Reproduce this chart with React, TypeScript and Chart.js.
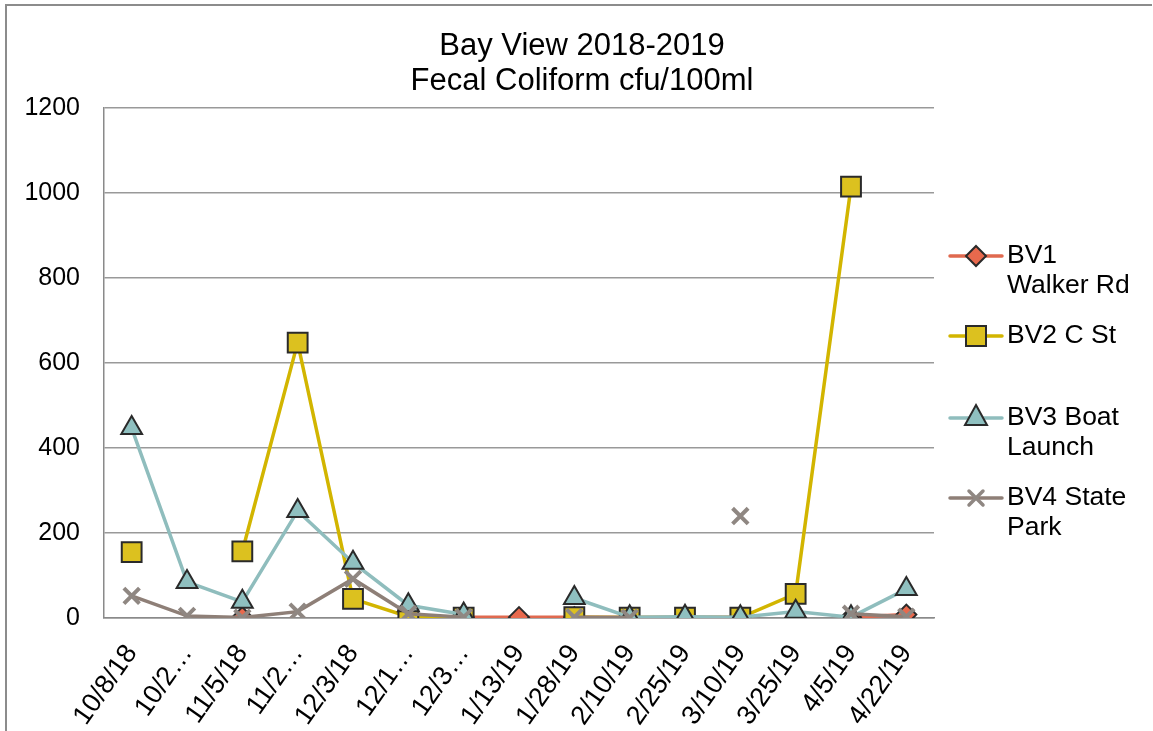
import React, { useEffect, useRef } from 'react';
import { Chart, registerables } from 'chart.js';

Chart.register(...registerables);

const categories = ['10/8/18', '10/2…', '11/5/18', '11/2…', '12/3/18', '12/1…', '12/3…', '1/13/19', '1/28/19', '2/10/19', '2/25/19', '3/10/19', '3/25/19', '4/5/19', '4/22/19'];
const bv1Values = [null, null, 2, null, null, null, 2, 2, 2, 1, 2, 2, null, 2, 8];
const bv2Values = [155, null, 157, 648, 45, 3, 1, null, 2, 1, 1, 1, 57, 1015, null];
const bv3Values = [447, 85, 38, 252, 130, 30, 8, null, 47, 2, 3, 2, 15, 2, 68];
const bv4Values = [52, 5, 1, 15, 92, 10, 2, null, 2, 1, null, 240, null, 10, 3];
const yTicks = [0, 200, 400, 600, 800, 1000, 1200];
const titleLines = ['Bay View 2018-2019', 'Fecal Coliform cfu/100ml'];

const FONT = "'Liberation Sans', Arial, sans-serif";

const legendItems = [
  { lines: ['BV1', 'Walker Rd'], line: '#E0694F', style: 'diamond', fill: '#E8694D', y: 256 },
  { lines: ['BV2 C St'], line: '#D2B500', style: 'square', fill: '#DCC11F', y: 336 },
  { lines: ['BV3 Boat', 'Launch'], line: '#8FBDBD', style: 'triangle', fill: '#8FC0C0', y: 418 },
  { lines: ['BV4 State', 'Park'], line: '#8E7F77', style: 'cross', fill: '#8F8782', y: 498 },
];

const legendPlugin = {
  id: 'customLegend',
  afterDraw(chart: any) {
    const ctx = chart.ctx as CanvasRenderingContext2D;
    ctx.save();
    legendItems.forEach((it) => {
      const y = it.y;
      ctx.strokeStyle = it.line;
      ctx.lineWidth = 3.5;
      ctx.lineCap = 'round';
      ctx.beginPath();
      ctx.moveTo(950, y);
      ctx.lineTo(1002, y);
      ctx.stroke();
      const cx = 976;
      ctx.lineWidth = 2;
      ctx.strokeStyle = '#2a2a2a';
      ctx.fillStyle = it.fill;
      ctx.beginPath();
      if (it.style === 'diamond') {
        ctx.moveTo(cx, y - 10); ctx.lineTo(cx + 10, y); ctx.lineTo(cx, y + 10); ctx.lineTo(cx - 10, y); ctx.closePath();
        ctx.fill(); ctx.stroke();
      } else if (it.style === 'square') {
        ctx.rect(cx - 10, y - 10, 20, 20);
        ctx.fill(); ctx.stroke();
      } else if (it.style === 'triangle') {
        ctx.moveTo(cx, y - 13); ctx.lineTo(cx + 11, y + 7); ctx.lineTo(cx - 11, y + 7); ctx.closePath();
        ctx.fill(); ctx.stroke();
      } else {
        ctx.strokeStyle = it.fill;
        ctx.lineWidth = 3.5;
        ctx.moveTo(cx - 7, y - 7); ctx.lineTo(cx + 7, y + 7);
        ctx.moveTo(cx + 7, y - 7); ctx.lineTo(cx - 7, y + 7);
        ctx.stroke();
      }
      ctx.fillStyle = '#000';
      ctx.font = `26.5px ${FONT}`;
      ctx.textBaseline = 'middle';
      ctx.textAlign = 'left';
      it.lines.forEach((t, i) => ctx.fillText(t, 1007, y + i * 30));
    });
    ctx.restore();
  },
};

export default function App() {
  const ref = useRef<HTMLCanvasElement>(null);
  useEffect(() => {
    if (!ref.current) return;
    const chart = new Chart(ref.current, {
      type: 'line',
      data: {
        labels: categories,
        datasets: [
          {
            label: 'BV1 Walker Rd', data: bv1Values, order: 3,
            borderColor: '#E0694F', borderWidth: 3.5,
            pointStyle: 'rectRot', pointRadius: 10, pointBackgroundColor: '#E8694D',
            pointBorderColor: '#2a2a2a', pointBorderWidth: 2, spanGaps: false,
          },
          {
            label: 'BV2 C St', data: bv2Values, order: 2,
            borderColor: '#D2B500', borderWidth: 3.5,
            pointStyle: 'rect', pointRadius: 14, pointBackgroundColor: '#DCC11F',
            pointBorderColor: '#2a2a2a', pointBorderWidth: 2, spanGaps: false,
          },
          {
            label: 'BV3 Boat Launch', data: bv3Values, order: 1,
            borderColor: '#8FBDBD', borderWidth: 3.5,
            pointStyle: 'triangle', pointRadius: 12, pointBackgroundColor: '#8FC0C0',
            pointBorderColor: '#2a2a2a', pointBorderWidth: 2, spanGaps: false,
          },
          {
            label: 'BV4 State Park', data: bv4Values, order: 0,
            borderColor: '#8E7F77', borderWidth: 3.5,
            pointStyle: 'crossRot', pointRadius: 11, pointBackgroundColor: '#8F8782',
            pointBorderColor: '#8F8782', pointBorderWidth: 4, spanGaps: false,
          },
        ],
      },
      options: {
        responsive: false,
        animation: false,
        layout: { padding: { top: 0, right: 0, bottom: 0, left: 11 } },
        plugins: {
          legend: { display: false },
          tooltip: { enabled: false },
          title: {
            display: true,
            text: titleLines,
            color: '#000',
            font: { family: FONT, size: 31, weight: 'normal', lineHeight: 1.13 },
            padding: { top: 29, bottom: 9 },
          },
        },
        scales: {
          x: {
            offset: true,
            grid: { display: false, drawTicks: false },
            border: { display: true, color: '#8a8a8a', width: 1.5 },
            ticks: {
              color: '#000', autoSkip: false, minRotation: 55, maxRotation: 55, padding: 21,
              font: { family: FONT, size: 27 },
            },
            afterFit: (s: any) => { s.height = 113; },
          },
          y: {
            min: 0, max: 1200,
            afterBuildTicks: (s: any) => { s.ticks = yTicks.map((v) => ({ value: v })); },
            grid: { color: '#999999', lineWidth: 1.5, drawTicks: false },
            border: { display: true, color: '#8a8a8a', width: 1.5 },
            ticks: {
              color: '#000', padding: 24, font: { family: FONT, size: 25 },
              callback: (v: any) => String(v),
            },
            afterFit: (s: any) => { s.width = 93; },
          },
          legendSpace: {
            type: 'linear',
            position: 'right',
            display: true,
            grid: { display: false, drawOnChartArea: false, drawTicks: false },
            border: { display: false },
            ticks: { display: false },
            afterFit: (s: any) => { s.width = 219; },
          },
        },
      },
      plugins: [legendPlugin],
    });
    return () => chart.destroy();
  }, []);
  return (
    <div style={{ position: 'fixed', left: 0, top: 0, width: 1153, height: 731, background: '#fff' }}>
      <div style={{ position: 'absolute', left: 5, top: 4, width: 1145, height: 740, borderTop: '2px solid #8c8c8c', borderLeft: '2px solid #8c8c8c' }} />
      <canvas ref={ref} width={1153} height={731} style={{ position: 'absolute', left: 0, top: 0 }} />
    </div>
  );
}
